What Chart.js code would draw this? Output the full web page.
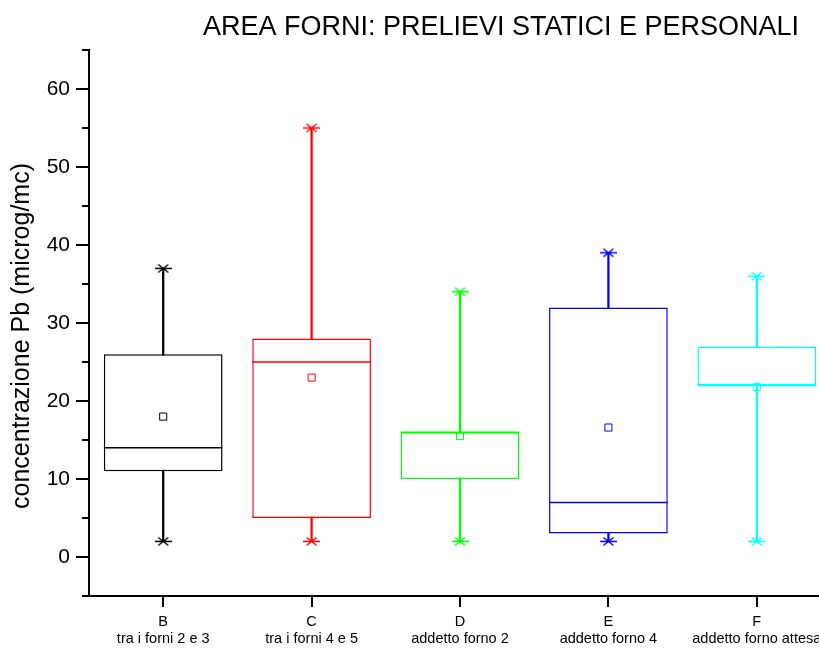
<!DOCTYPE html>
<html><head><meta charset="utf-8">
<script src="https://cdn.jsdelivr.net/npm/chart.js@4"></script>
<style>html,body{margin:0;padding:0;overflow:hidden;background:#fff}#wrap{width:838px;height:648px}</style>
</head><body><div id="wrap"><canvas id="c" width="838" height="648"></canvas></div>
<script>
const chartTitle = 'AREA FORNI: PRELIEVI STATICI E PERSONALI';
const yAxisTitle = 'concentrazione Pb (microg/mc)';
const categories = [
  ['B', 'tra i forni 2 e 3'],
  ['C', 'tra i forni 4 e 5'],
  ['D', 'addetto forno 2'],
  ['E', 'addetto forno 4'],
  ['F', 'addetto forno attesa']
];
const minVals    = [2, 2, 2, 2, 2];
const q1Vals     = [11, 5, 10, 3, 22];
const medianVals = [14, 25, 16, 7, 22];
const q3Vals     = [26, 28, 16, 32, 27];
const maxVals    = [37, 55, 34, 39, 36];
const meanVals   = [18, 23, 15.5, 16.6, 21.8];
const colors = ['#000000', '#ff0000', '#00ff00', '#0000ff', '#00ffff'];
const yMin = -5, yMax = 65, yStep = 5;

const SANS = "'Liberation Sans', Arial, Helvetica, sans-serif";

function makeStar(color) {
  const c = document.createElement('canvas');
  c.width = 17; c.height = 11;
  const g = c.getContext('2d');
  g.strokeStyle = color; g.lineWidth = 1.4;
  g.beginPath();
  g.moveTo(0, 5.5); g.lineTo(17, 5.5);
  g.moveTo(3.5, 1.5); g.lineTo(13.5, 9.5);
  g.moveTo(13.5, 1.5); g.lineTo(3.5, 9.5);
  g.stroke();
  return c;
}
const starStyles = colors.map(makeStar);

const halfBox = (ctx) => {
  const x = ctx.chart.scales.x;
  if (!x) return 1;
  return (x.width / categories.length) * 0.8 / 2;
};

const textPlugin = {
  id: 'texts',
  afterDraw(chart) {
    const g = chart.ctx;
    const ys = chart.scales.y, area = chart.chartArea;
    g.save();
    g.fillStyle = '#000';
    g.font = '27px ' + SANS;
    g.textAlign = 'center';
    g.textBaseline = 'alphabetic';
    g.fillText(chartTitle, 501, 35);
    g.translate(22, 336);
    g.rotate(-Math.PI / 2);
    g.font = '25px ' + SANS;
    g.textBaseline = 'middle';
    g.fillText(yAxisTitle, 0, 0);
    g.restore();
    // minor ticks
    g.save();
    g.strokeStyle = '#000';
    g.lineWidth = 2;
    g.beginPath();
    for (let v = yMin; v <= yMax; v += yStep) {
      if (v % 10 === 0) continue;
      const py = Math.round(ys.getPixelForValue(v));
      g.moveTo(area.left - 7, py);
      g.lineTo(area.left, py);
    }
    g.stroke();
    g.restore();
  }
};

new Chart(document.getElementById('c'), {
  type: 'bar',
  data: {
    labels: categories,
    datasets: [
      {
        type: 'bar', label: 'whiskers',
        data: minVals.map((v, i) => [v, maxVals[i]]),
        backgroundColor: colors, borderWidth: 0, barThickness: 1.6,
        grouped: false, order: 5
      },
      {
        type: 'bar', label: 'boxes',
        data: q1Vals.map((v, i) => [v, q3Vals[i]]),
        backgroundColor: '#ffffff', borderColor: colors, borderWidth: 1.5,
        borderSkipped: false, grouped: false,
        barPercentage: 0.8, categoryPercentage: 1, order: 4
      },
      {
        type: 'line', label: 'median', data: medianVals, showLine: false,
        pointStyle: 'line', pointRadius: halfBox, pointHoverRadius: halfBox,
        pointBorderColor: colors, pointBorderWidth: 1.5, order: 3
      },
      {
        type: 'line', label: 'mean', data: meanVals, showLine: false,
        pointStyle: 'rect', pointRadius: 5, pointBorderColor: colors,
        pointBackgroundColor: 'rgba(0,0,0,0)', pointBorderWidth: 1, order: 2
      },
      {
        type: 'line', label: 'min', data: minVals, showLine: false,
        pointStyle: starStyles, pointRadius: 6, order: 1
      },
      {
        type: 'line', label: 'max', data: maxVals, showLine: false,
        pointStyle: starStyles, pointRadius: 6, order: 1
      }
    ]
  },
  options: {
    responsive: false,
    animation: false,
    devicePixelRatio: 1,
    events: [],
    layout: { padding: { top: 50, left: 0, right: 0, bottom: 0 } },
    plugins: { legend: { display: false }, tooltip: { enabled: false }, title: { display: false } },
    scales: {
      x: {
        type: 'category', offset: true,
        grid: { display: true, drawOnChartArea: false, drawTicks: true, tickLength: 11, offset: false, color: '#000', lineWidth: 2 },
        border: { display: true, color: '#000', width: 2 },
        ticks: { color: '#000', font: { family: SANS, size: 14.5, lineHeight: 1.17 }, padding: 7, maxRotation: 0, autoSkip: false },
        afterFit: (s) => { s.height = 52; }
      },
      y: {
        min: yMin, max: yMax,
        grid: {
          display: true, drawOnChartArea: false, drawTicks: true, tickLength: 13, lineWidth: 2,
          color: (ctx) => (ctx.tick && ctx.tick.value % 10 === 0) ? '#000' : 'rgba(0,0,0,0)'
        },
        border: { display: true, color: '#000', width: 2 },
        ticks: {
          stepSize: yStep, autoSkip: false, color: '#000', padding: 6,
          font: { family: SANS, size: 21 },
          callback: (v) => (v % 10 === 0 && v >= 0 && v <= 60) ? String(v) : ''
        },
        afterFit: (s) => { s.width = 89; }
      }
    }
  },
  plugins: [textPlugin]
});
</script>
</body></html>
